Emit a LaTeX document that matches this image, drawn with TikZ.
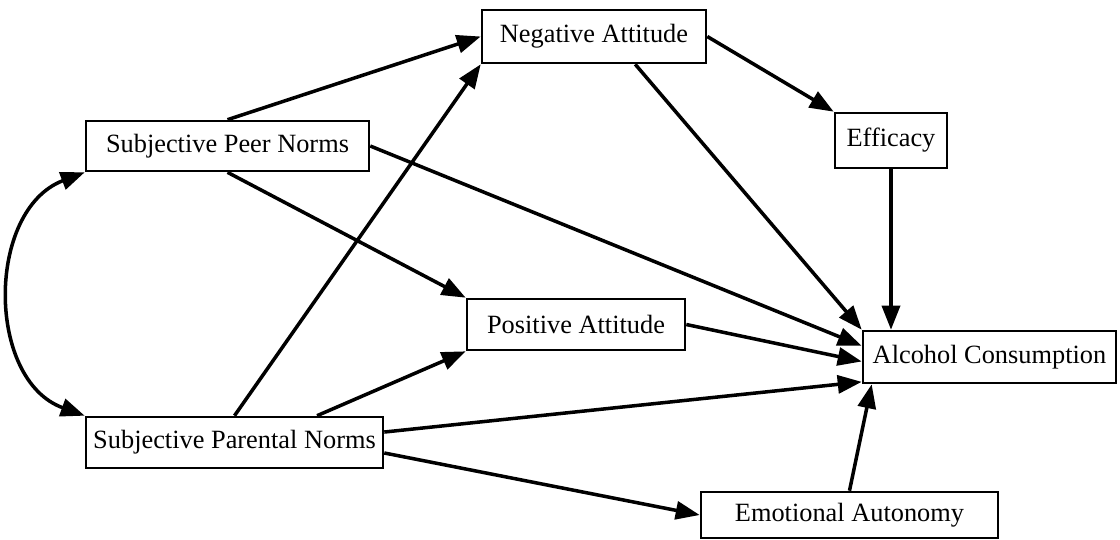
\documentclass[tikz,border=0pt]{standalone}
\usepackage{fontspec}
\setmainfont{Liberation Serif}
\usetikzlibrary{arrows.meta, calc}

\begin{document}
\begin{tikzpicture}[x=0.02cm, y=-0.02cm,
            tri/.tip={Triangle[length=4.8mm, width=3.6mm]},
            var/.style={draw, line width=1.5pt, inner sep=0pt, font=\fontsize{15}{18}\selectfont},
            link/.style={line width=2pt, -tri}]
            \useasboundingbox (0,0) rectangle (1120,539);
            \node[var, minimum width=4.48cm, minimum height=1.06cm] (na) at (594,36.5) {Negative Attitude};
            \node[var, minimum width=5.66cm, minimum height=1.0cm] (spn) at (227.5,146) {Subjective Peer Norms};
            \node[var, minimum width=2.24cm, minimum height=1.1cm] (eff) at (891,140.5) {Efficacy};
            \node[var, minimum width=4.36cm, minimum height=1.02cm] (pa) at (576,324.5) {Positive Attitude};
            \node[var, minimum width=5.06cm, minimum height=1.04cm] (ac) at (989.5,357) {Alcohol Consumption};
            \node[var, minimum width=5.94cm, minimum height=1.02cm] (span) at (234.5,442.5) {Subjective Parental Norms};
            \node[var, minimum width=5.94cm, minimum height=0.92cm] (ea) at (849.5,515) {Emotional Autonomy};
            \draw[link] (spn.north) -- (na.west);
            \draw[link] (span.north) -- (na.south west);
            \draw[link] (spn.south) -- (pa.north west);
            \draw[link] (span.18) -- (pa.south west);
            \draw[link] (na.east) -- (eff.north west);
            \draw[link] (na.-34) -- (ac.north west);
            \draw[link] (spn.east) -- (ac.175);
            \draw[link] (pa.east) -- (ac.182);
            \draw[link] (span.4) -- (ac.191);
            \draw[link] (span.-4) -- (ea.west);
            \draw[link] (eff.south) -- (eff.south |- ac.north);
            \draw[link] (ea.north) -- ($(ac.south west)+(10,0)$);
            \draw[link, tri-tri] (spn.south west) .. controls (-14,210) and (-14,380) .. (span.north west);
\end{tikzpicture}
\end{document}
